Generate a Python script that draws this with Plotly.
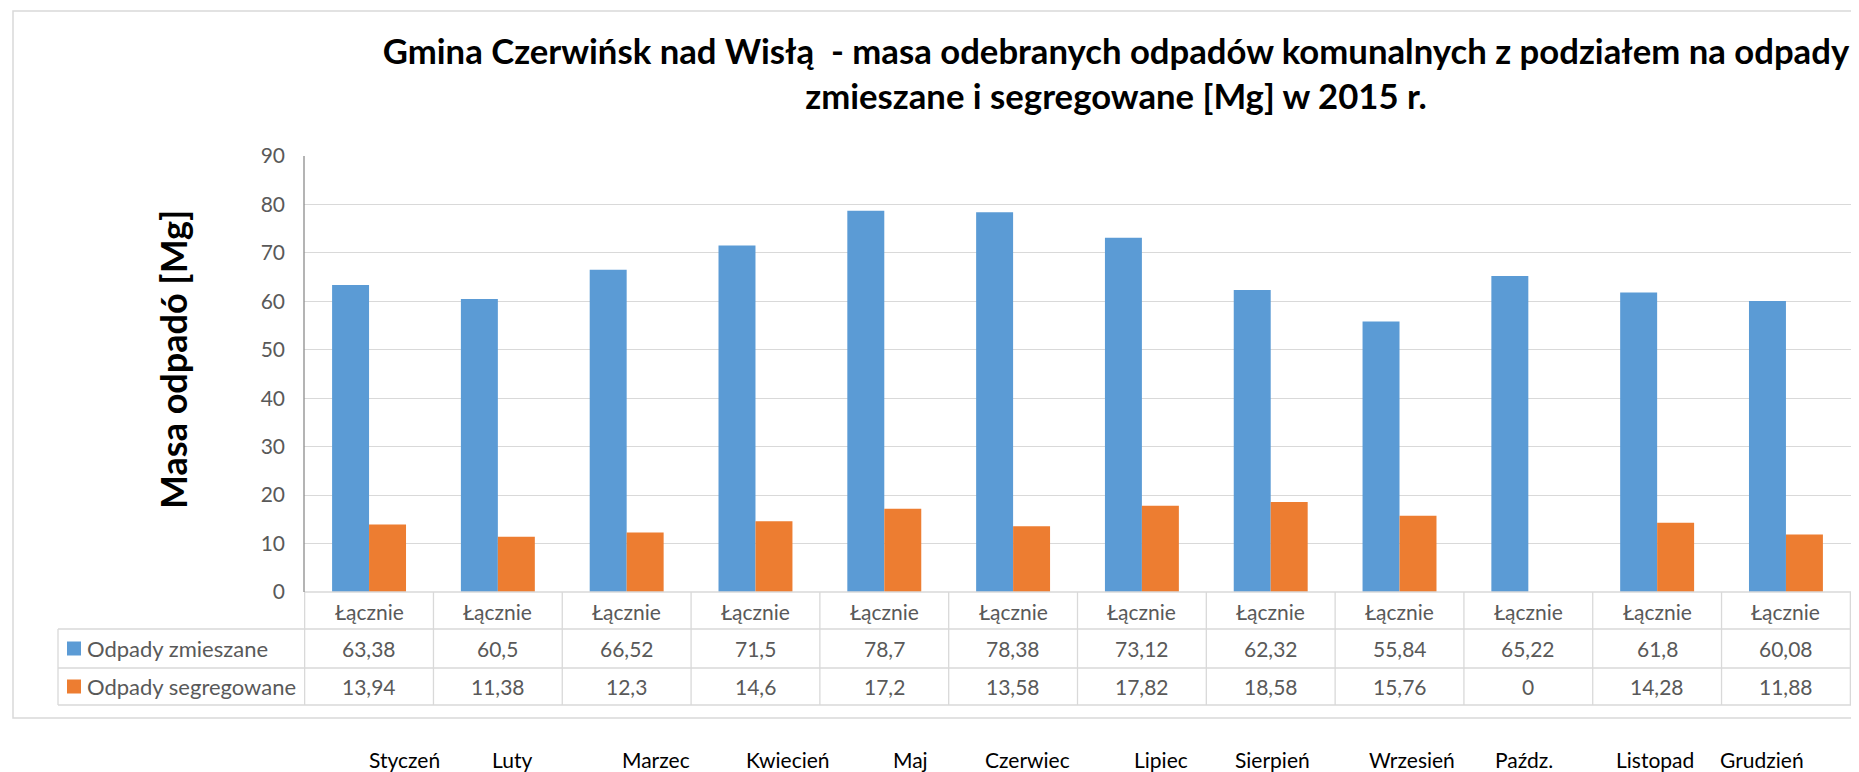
import plotly.graph_objects as go

# ---------------- data ----------------
months = ["Styczeń", "Luty", "Marzec", "Kwiecień", "Maj", "Czerwiec",
          "Lipiec", "Sierpień", "Wrzesień", "Paźdz.", "Listopad", "Grudzień"]
group_label = "Łącznie"
series_names = ["Odpady zmieszane", "Odpady segregowane"]
mixed = [63.38, 60.5, 66.52, 71.5, 78.7, 78.38, 73.12, 62.32, 55.84, 65.22, 61.8, 60.08]
segregated = [13.94, 11.38, 12.3, 14.6, 17.2, 13.58, 17.82, 18.58, 15.76, 0, 14.28, 11.88]
y_ticks = [0, 10, 20, 30, 40, 50, 60, 70, 80, 90]

title_text = ("<b>Gmina Czerwińsk nad Wisłą  - masa odebranych odpadów komunalnych z podziałem na odpady"
              "<br>zmieszane i segregowane [Mg] w 2015 r.</b>")
y_title = "<b>Masa odpadó [Mg]</b>"

# ---------------- style ----------------
OFF = 8                      # page body margin of the browser
W, H = 1859 - OFF, 772 - OFF
# plot area in reference-image pixels
RL, RR, RT, RB = 304, 1851, 156, 592
PL, PR, PT, PB = RL - OFF, RR - OFF, RT - OFF, RB - OFF
BLUE, ORANGE = "#5B9BD5", "#ED7D31"
GRID = "#D9D9D9"
TXT = "#595959"
FONT = "Lato, Carlito, 'Open Sans', sans-serif"
month_shift = [35, 14, 29, 33, 26, 14, 19, 2, 12, -4, -2, -24]
TS = 21  # table text size


def xp(rx):
    return (rx - RL) / (RR - RL)


def yp(ry):
    return (RB - ry) / (RB - RT)


def fmt(v):
    return f"{v:g}".replace(".", ",")


fig = go.Figure()
fig.add_trace(go.Bar(x=months, y=mixed, name=series_names[0], marker_color=BLUE,
                     marker_line_width=0))
fig.add_trace(go.Bar(x=months, y=segregated, name=series_names[1], marker_color=ORANGE,
                     marker_line_width=0))

shapes = []
# outer chart border
shapes.append(dict(type="rect", xref="paper", yref="paper",
                   x0=xp(13), x1=xp(1875), y0=yp(718), y1=yp(11),
                   line=dict(color=GRID, width=1.5), layer="below"))
# table horizontal lines
row_lines = [629, 668, 705]
for ry in row_lines:
    shapes.append(dict(type="line", xref="paper", yref="paper",
                       x0=xp(58), x1=1, y0=yp(ry), y1=yp(ry),
                       line=dict(color=GRID, width=1.3)))
shapes.append(dict(type="line", xref="paper", yref="paper",
                   x0=0, x1=1, y0=0, y1=0, line=dict(color=GRID, width=1.3)))
# table vertical lines
shapes.append(dict(type="line", xref="paper", yref="paper",
                   x0=xp(58), x1=xp(58), y0=yp(629), y1=yp(705),
                   line=dict(color=GRID, width=1.3)))
for i in range(len(months) + 1):
    shapes.append(dict(type="line", xref="x", yref="paper",
                       x0=i - 0.5, x1=i - 0.5, y0=0, y1=yp(705),
                       line=dict(color=GRID, width=1.3)))
# y axis line
shapes.append(dict(type="line", xref="paper", yref="paper",
                   x0=0, x1=0, y0=0, y1=1, line=dict(color="#8C8C8C", width=1.3)))
# legend keys inside table
row_centers = [611, 648.5, 686.5]
for k, col in enumerate([BLUE, ORANGE]):
    cy = row_centers[k + 1]
    shapes.append(dict(type="rect", xref="paper", yref="paper",
                       x0=xp(67), x1=xp(81), y0=yp(cy + 7), y1=yp(cy - 7),
                       fillcolor=col, line=dict(width=0)))

ann = []
# y-axis title
ann.append(dict(text=y_title, xref="paper", yref="paper", x=xp(173), y=yp(360),
                textangle=-90, showarrow=False, xanchor="center", yanchor="middle",
                font=dict(family=FONT, size=36, color="black")))
# table text
for i, m in enumerate(months):
    ann.append(dict(text=group_label, x=m, xref="x", yref="paper", y=yp(row_centers[0]),
                    showarrow=False, yanchor="middle",
                    font=dict(family=FONT, size=TS, color=TXT)))
    ann.append(dict(text=fmt(mixed[i]), x=m, xref="x", yref="paper", y=yp(row_centers[1]),
                    showarrow=False, yanchor="middle",
                    font=dict(family=FONT, size=TS, color=TXT)))
    ann.append(dict(text=fmt(segregated[i]), x=m, xref="x", yref="paper", y=yp(row_centers[2]),
                    showarrow=False, yanchor="middle",
                    font=dict(family=FONT, size=TS, color=TXT)))
    ann.append(dict(text=m, x=m, xref="x", yref="paper", y=yp(759), xshift=month_shift[i],
                    showarrow=False, yanchor="middle",
                    font=dict(family=FONT, size=21, color="black")))
for k, nm in enumerate(series_names):
    ann.append(dict(text=nm, xref="paper", yref="paper", x=xp(85), y=yp(row_centers[k + 1]),
                    showarrow=False, xanchor="left", yanchor="middle",
                    font=dict(family=FONT, size=22, color=TXT)))

fig.update_layout(
    width=W, height=H,
    margin=dict(l=PL, r=W - PR, t=PT, b=H - PB, pad=0),
    paper_bgcolor="white", plot_bgcolor="white",
    barmode="group", bargap=0.426, bargroupgap=0,
    showlegend=False,
    title=dict(text=title_text, x=(1116 - OFF) / W, xref="container", xanchor="center",
               y=1 - (64 - OFF) / H, yref="container", yanchor="middle",
               font=dict(family=FONT, size=34.7, color="black")),
    xaxis=dict(type="category", showticklabels=False, showgrid=False, zeroline=False,
               showline=False, ticks=""),
    yaxis=dict(range=[0, 90], tickvals=y_ticks, showgrid=True, gridcolor=GRID, gridwidth=1.3,
               zeroline=False, showline=False, ticks="", ticklabelstandoff=18,
               tickfont=dict(family=FONT, size=TS, color=TXT)),
    shapes=shapes, annotations=ann,
)

fig.write_html("out.html")
